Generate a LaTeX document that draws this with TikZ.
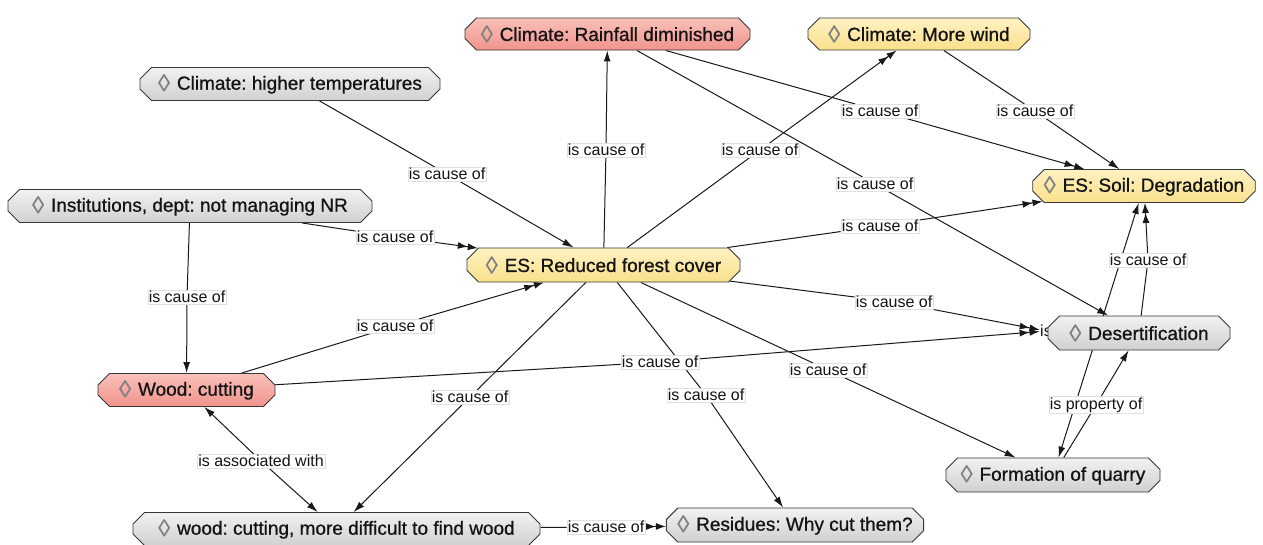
\documentclass[tikz,border=0pt]{standalone}
\usepackage{fontspec}
\setmainfont{Liberation Sans}
\newfontfamily\conceptfont[FakeBold=0.8]{Liberation Sans}
\usetikzlibrary{shapes.misc,arrows.meta}
\pgfdeclarelayer{bg}
\pgfsetlayers{bg,main}

\definecolor{redfill}{RGB}{240,148,140}
\definecolor{redtop}{RGB}{250,192,186}
\definecolor{yelfill}{RGB}{250,224,140}
\definecolor{yeltop}{RGB}{254,242,194}
\definecolor{grayfill}{RGB}{208,208,208}
\definecolor{graytop}{RGB}{242,242,242}
\definecolor{rim}{RGB}{55,55,55}
\definecolor{ink}{RGB}{20,20,20}

% the small hollow diamond in front of each concept
\newcommand\cmapdia{\raisebox{-1.5pt}{\textcolor{black!50}{\fontsize{24}{24}\selectfont◊}}\hspace{7pt}}

\tikzset{
  concept/.style={chamfered rectangle, chamfered rectangle xsep=8pt,
    draw=rim, line width=0.9pt, minimum height=32pt, inner xsep=3pt,
    font=\conceptfont\fontsize{19}{22}\selectfont\frenchspacing, text=ink},
  redc/.style={concept, top color=redtop, bottom color=redfill},
  yelc/.style={concept, top color=yeltop, bottom color=yelfill},
  grayc/.style={concept, top color=graytop, bottom color=grayfill},
  linkp/.style={fill=white, draw=black!12, line width=0.3pt, inner sep=1pt,
    font=\fontsize{16}{18}\selectfont, text=ink},
  conn/.style={draw=black!90, line width=1pt},
  tip/.style={conn, -{Latex[length=11pt,width=7pt]}},
  tips/.style={conn, -{Latex[length=10pt,width=7pt] Latex[length=10pt,width=7pt]}},
}

\begin{document}
\begin{tikzpicture}[x=1pt,y=-1pt]
\useasboundingbox (0,0) rectangle (1263,544);

% concepts
\node[redc,  minimum width=285pt] (rain)      at (607.5,34) {\cmapdia Climate: Rainfall diminished};
\node[yelc,  minimum width=222pt] (wind)      at (919,34)   {\cmapdia Climate: More wind};
\node[grayc, minimum width=300pt] (temp)      at (290,84)   {\cmapdia Climate: higher temperatures};
\node[grayc, minimum width=364pt] (inst)      at (190,206)  {\cmapdia Institutions, dept: not managing NR};
\node[yelc,  minimum width=212pt] (soil)      at (1144,186) {\cmapdia ES: Soil: Degradation};
\node[yelc,  minimum width=273pt, minimum height=34pt] (forest) at (603.5,265) {\cmapdia ES: Reduced forest cover};
\node[linkp, draw=none, inner xsep=0.5pt] (hid) at (1046,331) {is};
\node[grayc, minimum width=182pt, minimum height=34pt] (desert) at (1139,333) {\cmapdia Desertification};
\node[redc,  minimum width=177pt] (wood)      at (186.5,390) {\cmapdia Wood: cutting};
\node[grayc, minimum width=214pt, minimum height=34pt] (quarry) at (1053,475) {\cmapdia Formation of quarry};
\node[grayc, minimum width=407pt, minimum height=31pt] (difficult) at (336.5,529) {\cmapdia wood: cutting, more difficult to find wood};
\node[grayc, minimum width=246pt, minimum height=34pt] (residues) at (795,525) {\cmapdia Residues: Why cut them?};

% linking phrases
\node[linkp] (l1)  at (447,174)  {is cause of};
\node[linkp] (l2)  at (606,150)  {is cause of};
\node[linkp] (l3)  at (760,150)  {is cause of};
\node[linkp] (l4)  at (880,111)  {is cause of};
\node[linkp] (l5)  at (1035,111) {is cause of};
\node[linkp] (l6)  at (875,184)  {is cause of};
\node[linkp] (l7)  at (880,226)  {is cause of};
\node[linkp] (l8)  at (395,237)  {is cause of};
\node[linkp] (l9)  at (187,297)  {is cause of};
\node[linkp] (l10) at (395,326)  {is cause of};
\node[linkp] (l11) at (660,362)  {is cause of};
\node[linkp] (l12) at (894,302)  {is cause of};
\node[linkp] (l13) at (828,370)  {is cause of};
\node[linkp] (l14) at (706,395)  {is cause of};
\node[linkp] (l15) at (470,397)  {is cause of};
\node[linkp] (l16) at (261,461)  {is associated with};
\node[linkp] (l17) at (606,527)  {is cause of};
\node[linkp] (l18) at (1148,260) {is cause of};
\node[linkp] (l19) at (1096,405) {is property of};

% connectors
\begin{pgfonlayer}{bg}
\draw[conn] (temp) -- (l1);    \draw[tip]  (l1) -- (forest);
\draw[conn] (forest) -- (l2);  \draw[tip]  (l2) -- (rain);
\draw[conn] (forest) -- (l3);  \draw[tips] (l3) -- (wind);
\draw[conn] (rain) -- (l4);    \draw[tips] (l4) -- (soil);
\draw[conn] (wind) -- (l5);    \draw[tip]  (l5) -- (soil);
\draw[conn] (rain) -- (l6);    \draw[tip]  (l6) -- (desert);
\draw[conn] (forest) -- (l7);  \draw[tips] (l7) -- (soil);
\draw[conn] (inst) -- (l8);    \draw[tips] (l8) -- (forest);
\draw[conn] (inst) -- (l9);    \draw[tip]  (l9) -- (wood);
\draw[conn] (wood) -- (l10);   \draw[tips] (l10) -- (forest);
\draw[conn] (wood) -- (l11);   \draw[tips] (l11) -- (hid);
\draw[conn] (forest) -- (l12); \draw[tips] (l12) -- (hid);
\draw[conn] (forest) -- (l13); \draw[tip]  (l13) -- (quarry);
\draw[conn] (forest) -- (l14); \draw[tip]  (l14) -- (residues);
\draw[conn] (forest) -- (l15); \draw[tip]  (l15) -- (difficult);
\draw[tip]  (l16) -- (wood);   \draw[tip]  (l16) -- (difficult);
\draw[conn] (difficult) -- (l17); \draw[tips] (l17) -- (residues);
\draw[conn] (desert) -- (l18); \draw[tips] (l18) -- (soil);
\draw[conn] (quarry) -- (l19); \draw[tip]  (l19) -- (desert);
\draw[conn, {Latex[length=11pt,width=7pt]}-{Latex[length=11pt,width=7pt]}] (quarry) -- (soil);
\end{pgfonlayer}
\end{tikzpicture}
\end{document}
